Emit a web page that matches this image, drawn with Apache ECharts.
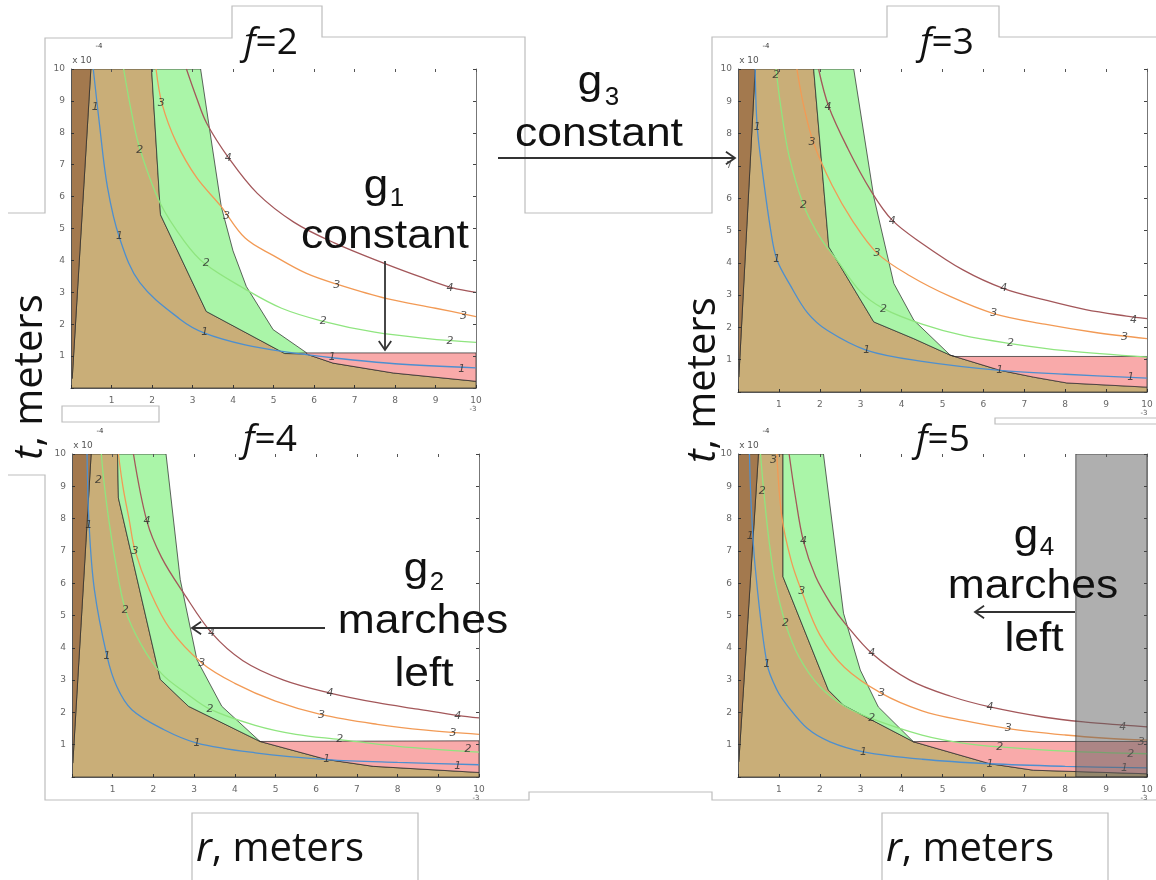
<!DOCTYPE html>
<html><head><meta charset="utf-8">
<script src="https://cdn.jsdelivr.net/npm/echarts@6/dist/echarts.min.js"></script>
<style>html,body{margin:0;padding:0;background:#fff}#c{width:1156px;height:880px}</style>
</head><body><div id="c"></div>
<script>
// ---------- data ----------
const fValues = ['2', '3', '4', '5'];
const axisLabels = ['', '1', '2', '3', '4', '5', '6', '7', '8', '9', '10'];
const contourLevels = ['1', '2', '3', '4'];

// f = 2
const f2_dark  = [[0,0.3],[0,10],[0.49,10],[0.03,0.3]];
const f2_tan   = [[0.03,0.3],[0.49,10],[1.99,10],[2.21,5.43],[3.34,2.4],[5.28,1.08],[5.82,1.06],[6.47,0.78],[7.96,0.47],[10,0.21],[10,0],[0,0],[0,0.3]];
const f2_green = [[1.99,10],[3.2,10],[3.4,8.3],[3.71,5.69],[4.0,4.3],[4.33,3.18],[4.99,1.83],[5.82,1.1],[5.28,1.08],[3.34,2.4],[2.21,5.43]];
const f2_pink  = [[5.82,1.1],[10,1.1],[10,0.21],[7.96,0.47],[6.47,0.78],[5.82,1.06]];
const f2_c1 = [[0.55,10],[0.7,8.3],[0.9,6.3],[1.2,4.7],[1.7,3.3],[2.7,2.15],[3.3,1.72],[4.3,1.35],[5.3,1.13],[6.5,0.94],[8,0.76],[10,0.63]];
const f2_c2 = [[1.3,10],[1.5,8.6],[1.7,7.5],[2.2,5.8],[2.8,4.6],[3.3,3.9],[4.3,3.1],[5.2,2.5],[6.2,2.1],[7.5,1.75],[8.8,1.55],[10,1.43]];
const f2_c3 = [[2.1,10],[2.25,8.9],[2.6,7.7],[3.1,6.6],[3.7,5.7],[4.3,4.7],[5.0,4.15],[5.8,3.6],[6.6,3.24],[7.8,2.8],[9,2.5],[10,2.24]];
const f2_c4 = [[2.85,10],[3.1,9.1],[3.35,8.3],[3.9,7.2],[4.6,6.1],[5.5,5.2],[6.5,4.55],[7.75,3.9],[8.7,3.45],[9.4,3.15],[10,3.0]];
const f2_labels = [[0.6,8.8,'1'],[1.2,4.75,'1'],[3.3,1.75,'1'],[6.45,0.96,'1'],[9.65,0.6,'1'],
  [1.7,7.46,'2'],[3.34,3.9,'2'],[6.23,2.09,'2'],[9.36,1.46,'2'],
  [2.23,8.92,'3'],[3.84,5.38,'3'],[6.56,3.24,'3'],[9.69,2.24,'3'],
  [3.88,7.2,'4'],[9.36,3.13,'4']];

// f = 3
const f3_dark  = [[0,0.46],[0,10],[0.42,10],[0.02,0.46]];
const f3_tan   = [[0.02,0.46],[0.42,10],[1.85,10],[2.22,4.49],[3.32,2.17],[4.3,1.65],[5.19,1.14],[6.41,0.67],[7.23,0.46],[8.04,0.28],[10,0.15],[10,0],[0,0],[0,0.46]];
const f3_green = [[1.85,10],[2.83,10],[3.32,6.04],[3.81,3.36],[4.3,2.22],[5.19,1.14],[4.3,1.65],[3.32,2.17],[2.22,4.49]];
const f3_pink  = [[5.19,1.14],[5.3,1.1],[10,1.1],[10,0.15],[8.04,0.28],[7.23,0.46],[6.41,0.67]];
const f3_c1 = [[0.42,10],[0.47,8.2],[0.6,6.8],[0.8,5.0],[0.95,4.1],[1.28,3.3],[1.7,2.45],[2.18,1.91],[3.15,1.29],[4.5,0.95],[6.4,0.67],[8,0.55],[10,0.43]];
const f3_c2 = [[0.93,10],[1.05,8.8],[1.25,7.3],[1.6,5.8],[2.0,4.8],[2.42,4.08],[3.0,3.1],[3.56,2.58],[4.5,2.1],[5.5,1.75],[6.66,1.5],[8,1.28],[10,1.08]];
const f3_c3 = [[1.44,10],[1.6,8.9],[1.85,7.7],[2.3,6.4],[2.8,5.3],[3.4,4.3],[4.2,3.6],[5.2,2.95],[6.25,2.43],[7.5,2.1],[8.7,1.85],[10,1.65]];
const f3_c4 = [[1.97,10],[2.22,8.83],[2.7,7.5],[3.24,6.25],[3.77,5.32],[4.5,4.6],[5.5,3.78],[6.5,3.2],[7.5,2.85],[8.5,2.55],[9.5,2.35],[10,2.27]];
const f3_labels = [[0.47,8.2,'1'],[0.95,4.1,'1'],[3.15,1.3,'1'],[6.4,0.67,'1'],[9.6,0.46,'1'],
  [0.93,9.8,'2'],[1.6,5.8,'2'],[3.56,2.58,'2'],[6.66,1.5,'2'],
  [1.81,7.75,'3'],[3.4,4.3,'3'],[6.25,2.43,'3'],[9.45,1.7,'3'],
  [2.2,8.83,'4'],[3.77,5.3,'4'],[6.5,3.2,'4'],[9.67,2.22,'4']];

// f = 4
const f4_dark  = [[0,0.43],[0,10],[0.47,10],[0.02,0.43]];
const f4_tan   = [[0.02,0.43],[0.47,10],[1.12,10],[1.14,8.64],[2.17,3.02],[2.86,2.19],[4.62,1.1],[6.26,0.54],[7.4,0.33],[10,0.14],[10,0],[0,0],[0,0.43]];
const f4_green = [[1.12,10],[2.31,10],[2.66,6.11],[3.07,3.63],[3.68,2.19],[4.62,1.1],[2.86,2.19],[2.17,3.02],[1.14,8.64]];
const f4_pink  = [[4.62,1.1],[10,1.12],[10,0.14],[7.4,0.33],[6.26,0.54]];
const f4_c1 = [[0.37,10],[0.42,7.8],[0.55,5.8],[0.86,3.74],[1.1,2.8],[1.47,2.08],[2.25,1.47],[3.07,1.05],[4.5,0.75],[6.26,0.54],[8,0.45],[10,0.38]];
const f4_c2 = [[0.72,10],[0.78,9.2],[0.9,8.0],[1.05,6.8],[1.31,5.18],[1.7,4.1],[2.2,3.2],[2.8,2.6],[3.39,2.1],[4.5,1.6],[5.5,1.32],[6.58,1.16],[8,0.95],[10,0.77]];
const f4_c3 = [[1.14,10],[1.25,9.0],[1.4,8.0],[1.55,7.0],[1.9,5.8],[2.4,4.6],[3.19,3.53],[4.0,2.9],[5.0,2.35],[6.13,1.93],[7.5,1.63],[8.7,1.45],[10,1.32]];
const f4_c4 = [[1.51,10],[1.84,7.92],[2.2,6.8],[2.74,5.7],[3.43,4.46],[4.2,3.6],[5.2,3.0],[6.34,2.6],[7.5,2.3],[8.5,2.1],[9.5,1.9],[10,1.83]];
const f4_labels = [[0.41,7.8,'1'],[0.86,3.74,'1'],[3.07,1.05,'1'],[6.26,0.54,'1'],[9.48,0.33,'1'],
  [0.65,9.2,'2'],[1.31,5.18,'2'],[3.39,2.1,'2'],[6.58,1.16,'2'],[9.73,0.85,'2'],
  [1.55,7.0,'3'],[3.19,3.53,'3'],[6.13,1.93,'3'],[9.36,1.36,'3'],
  [1.84,7.92,'4'],[3.43,4.46,'4'],[6.34,2.6,'4'],[9.48,1.88,'4']];

// f = 5
const f5_dark  = [[0,0.47],[0,10],[0.5,10],[0.02,0.47]];
const f5_tan   = [[0.02,0.47],[0.5,10],[1.1,10],[1.1,6.2],[2.21,2.69],[2.58,2.22],[4.29,1.09],[6.16,0.41],[7.22,0.21],[10,0.1],[10,0],[0,0],[0,0.47]];
const f5_green = [[1.1,10],[2.09,10],[2.58,5.07],[2.99,3.31],[3.43,2.17],[4.29,1.09],[2.58,2.22],[2.21,2.69],[1.1,6.2]];
const f5_pink  = [[4.29,1.09],[4.45,1.1],[10,1.1],[10,0.1],[7.22,0.21],[6.16,0.41]];
const f5_gray  = [[8.26,0],[8.26,10],[10,10],[10,0]];
const f5_c1 = [[0.28,10],[0.32,8.5],[0.42,6.5],[0.71,3.5],[0.95,2.7],[1.2,2.22],[1.7,1.5],[2.25,1.09],[3.07,0.78],[4.5,0.55],[6.16,0.41],[8,0.33],[10,0.28]];
const f5_c2 = [[0.55,10],[0.63,8.84],[0.75,7.4],[0.9,6.1],[1.16,4.75],[1.5,3.7],[2.0,2.8],[2.6,2.2],[3.27,1.81],[4.5,1.3],[5.5,1.05],[6.4,0.93],[8,0.8],[10,0.72]];
const f5_c3 = [[0.95,10],[1.07,8.07],[1.3,6.7],[1.56,5.74],[2.0,4.4],[2.6,3.4],[3.51,2.59],[4.5,2.05],[5.5,1.75],[6.61,1.5],[8,1.3],[9,1.2],[10,1.14]];
const f5_c4 = [[1.25,10],[1.4,8.7],[1.6,7.3],[1.9,6.2],[2.3,5.3],[2.62,4.75],[3.27,3.83],[4.2,3.0],[5.2,2.5],[6.16,2.17],[7.5,1.85],[8.5,1.7],[9.5,1.6],[10,1.55]];
const f5_labels = [[0.3,7.45,'1'],[0.71,3.5,'1'],[3.07,0.78,'1'],[6.16,0.41,'1'],[9.45,0.28,'1'],
  [0.59,8.84,'2'],[1.16,4.75,'2'],[3.27,1.81,'2'],[6.4,0.93,'2'],[9.6,0.72,'2'],
  [0.87,9.82,'3'],[1.56,5.74,'3'],[3.51,2.59,'3'],[6.61,1.5,'3'],[9.86,1.09,'3'],
  [1.6,7.3,'4'],[3.27,3.83,'4'],[6.16,2.17,'4'],[9.41,1.55,'4']];

// ---------- layout / style ----------
const grids = [
  {left:71, top:69, width:405, height:319},
  {left:738, top:69, width:409, height:323},
  {left:72, top:454, width:407, height:323},
  {left:738, top:454, width:409, height:323}
];
const panels = [
  {dark:f2_dark, tan:f2_tan, green:f2_green, pink:f2_pink, curves:[f2_c1,f2_c2,f2_c3,f2_c4], labels:f2_labels},
  {dark:f3_dark, tan:f3_tan, green:f3_green, pink:f3_pink, curves:[f3_c1,f3_c2,f3_c3,f3_c4], labels:f3_labels},
  {dark:f4_dark, tan:f4_tan, green:f4_green, pink:f4_pink, curves:[f4_c1,f4_c2,f4_c3,f4_c4], labels:f4_labels},
  {dark:f5_dark, tan:f5_tan, green:f5_green, pink:f5_pink, curves:[f5_c1,f5_c2,f5_c3,f5_c4], labels:f5_labels, gray:f5_gray}
];
const curveColors = ['#4d8fcf', '#8fe57f', '#f29a55', '#a3575a'];
const C = {dark:'#a3794e', tan:'#c9ae78', green:'#aaf5a8', pink:'#f9aaaa', gray:'rgba(95,95,95,0.5)'};

const xAxes = [], yAxes = [], series = [];
const labelFmt = v => axisLabels[Math.round(v)] || '';
grids.forEach((g, i) => {
  const base = {type:'value', min:0, max:10, interval:1, gridIndex:i, z:10, splitLine:{show:false}};
  xAxes.push(Object.assign({}, base, {position:'bottom',
    axisLine:{show:true, onZero:false, lineStyle:{color:'#555', width:1}},
    axisTick:{show:true, inside:true, length:3, lineStyle:{color:'#333'}},
    axisLabel:{show:true, formatter:labelFmt, fontSize:9, color:'#666', margin:8, fontFamily:'DejaVu Sans'}}));
  xAxes.push(Object.assign({}, base, {position:'top',
    axisLine:{show:false, onZero:false},
    axisTick:{show:true, inside:true, length:3, lineStyle:{color:'#555'}},
    axisLabel:{show:false}}));
  yAxes.push(Object.assign({}, base, {position:'left',
    axisLine:{show:true, onZero:false, lineStyle:{color:'#555', width:1}},
    axisTick:{show:true, inside:true, length:3, lineStyle:{color:'#333'}},
    axisLabel:{show:true, formatter:labelFmt, fontSize:9, color:'#666', margin:6, fontFamily:'DejaVu Sans'}}));
  yAxes.push(Object.assign({}, base, {position:'right',
    axisLine:{show:true, onZero:false, lineStyle:{color:'#777', width:1}},
    axisTick:{show:true, inside:true, length:3, lineStyle:{color:'#444'}},
    axisLabel:{show:false}}));
});

function poly(i, pts, fill, z) {
  return {type:'custom', xAxisIndex:2*i, yAxisIndex:2*i, clip:true, silent:true, z:z,
    data:[[pts[0][0], pts[0][1]]],
    renderItem:(params, api) => ({type:'polygon',
      shape:{points: pts.map(p => api.coord(p))},
      style:{fill: fill, stroke:'rgba(40,40,40,0.8)', lineWidth:0.9}})};
}

panels.forEach((p, i) => {
  series.push(poly(i, p.tan, C.tan, 1));
  series.push(poly(i, p.dark, C.dark, 2));
  series.push(poly(i, p.green, C.green, 2));
  series.push(poly(i, p.pink, C.pink, 2));
  p.curves.forEach((c, k) => {
    series.push({type:'line', name:'level ' + contourLevels[k], xAxisIndex:2*i, yAxisIndex:2*i, data:c,
      smooth:0.35, showSymbol:false, clip:true, silent:true, z:4,
      lineStyle:{color:curveColors[k], width:1.3}});
  });
  series.push({type:'scatter', xAxisIndex:2*i, yAxisIndex:2*i, data:p.labels, symbolSize:0, silent:true, z:5,
    label:{show:true, position:'inside', formatter: d => d.value[2], fontSize:11, fontStyle:'italic',
      color:'#2a2a2a', fontFamily:'DejaVu Sans'}});
  if (p.gray) series.push(poly(i, p.gray, C.gray, 6));
});

// ---------- graphic (slide annotations) ----------
const outline = '#bdbdbd';
const graphic = [];
function pl(points) { graphic.push({type:'polyline', silent:true, shape:{points}, style:{stroke:outline, lineWidth:1.2, fill:null}}); }
function rect(x, y, w, h) { graphic.push({type:'rect', silent:true, shape:{x, y, width:w, height:h}, style:{stroke:outline, lineWidth:1.2, fill:'#fff'}}); }
pl([[8,213],[45,213],[45,38],[232,38],[232,6],[322,6],[322,37],[525,37],[525,213],[712,213],[712,37],[887,37],[887,6],[999,6],[999,37],[1156,37]]);
pl([[8,475],[45,475],[45,800],[529,800],[529,792],[712,792],[712,800],[1156,800]]);
rect(62, 406, 97, 16);
rect(995, 418, 170, 6);
rect(192, 813, 226, 80);
rect(882, 813, 226, 80);

function txt(x, y, text, size, o) {
  o = o || {};
  graphic.push({type:'text', x, y, silent:true, z:20, scaleX:o.scaleX || 1,
    style:{text, fontSize:size, fontFamily:o.font || 'Liberation Sans', fill:o.fill || '#111',
      textAlign:'center', textVerticalAlign:'middle', fontStyle:o.italic ? 'italic' : 'normal'}});
}
function rich2(x, y, a, b, size, rot) {
  graphic.push({type:'text', x, y, rotation:rot || 0, silent:true, z:20,
    style:{text:'{i|' + a + '}{n|' + b + '}', textAlign:'center', textVerticalAlign:'middle',
      rich:{i:{fontSize:size, fontStyle:'italic', fontFamily:'Open Sans', fill:'#111'},
            n:{fontSize:size, fontFamily:'Open Sans', fill:'#111'}}}});
}
// panel titles
rich2(271, 43, 'f', '=' + fValues[0], 37);
rich2(947, 43, 'f', '=' + fValues[1], 37);
rich2(270, 440, 'f', '=' + fValues[2], 37);
rich2(943, 440, 'f', '=' + fValues[3], 37);
// slide axis names
rich2(280, 850, 'r', ', meters', 40, 0);
rich2(970, 850, 'r', ', meters', 40, 0);
rich2(31, 377, 't', ', meters', 40, Math.PI / 2);
rich2(704, 380, 't', ', meters', 40, Math.PI / 2);

// exponent texts
grids.forEach(g => {
  txt(g.left + 11, g.top - 8, 'x 10', 9, {font:'DejaVu Sans', fill:'#555'});
  txt(g.left + 28, g.top - 23, '-4', 7, {font:'DejaVu Sans', fill:'#333'});
  txt(g.left + g.width - 3, g.top + g.height + 21, '-3', 7, {font:'DejaVu Sans', fill:'#555'});
});

// annotation blocks
function gsub(xg, yg, sub, xs, ys) {
  txt(xg, yg, 'g', 40, {scaleX:1.1});
  txt(xs, ys, sub, 26);
}
function word(x, y, w) { txt(x, y, w, 40, {scaleX:1.11}); }
gsub(376, 187, '1', 397, 199); word(385, 237, 'constant');
gsub(590, 83, '3', 612, 98);  word(599, 135, 'constant');
gsub(416, 570, '2', 437, 583); word(423, 622, 'marches'); word(424, 675, 'left');
gsub(1026, 537, '4', 1047, 548); word(1033, 587, 'marches'); word(1034, 640, 'left');

function arrow(x1, y1, x2, y2) {
  const a = Math.atan2(y2 - y1, x2 - x1), L = 11, w = 0.6;
  graphic.push({type:'line', silent:true, z:21, shape:{x1, y1, x2, y2}, style:{stroke:'#333', lineWidth:1.8}});
  graphic.push({type:'polyline', silent:true, z:21, shape:{points:[
    [x2 - L*Math.cos(a - w), y2 - L*Math.sin(a - w)], [x2, y2], [x2 - L*Math.cos(a + w), y2 - L*Math.sin(a + w)]]},
    style:{stroke:'#333', lineWidth:1.8, fill:null}});
}
arrow(385, 261, 385, 350);
arrow(498, 158, 735, 158);
arrow(325, 628, 192, 628);
arrow(1075, 612, 975, 612);

const chart = echarts.init(document.getElementById('c'), null, {renderer:'canvas'});
chart.setOption({
  animation:false,
  backgroundColor:'#fff',
  grid: grids.map(g => Object.assign({containLabel:false}, g)),
  xAxis: xAxes,
  yAxis: yAxes,
  series: series,
  graphic: graphic
});
</script></body></html>
